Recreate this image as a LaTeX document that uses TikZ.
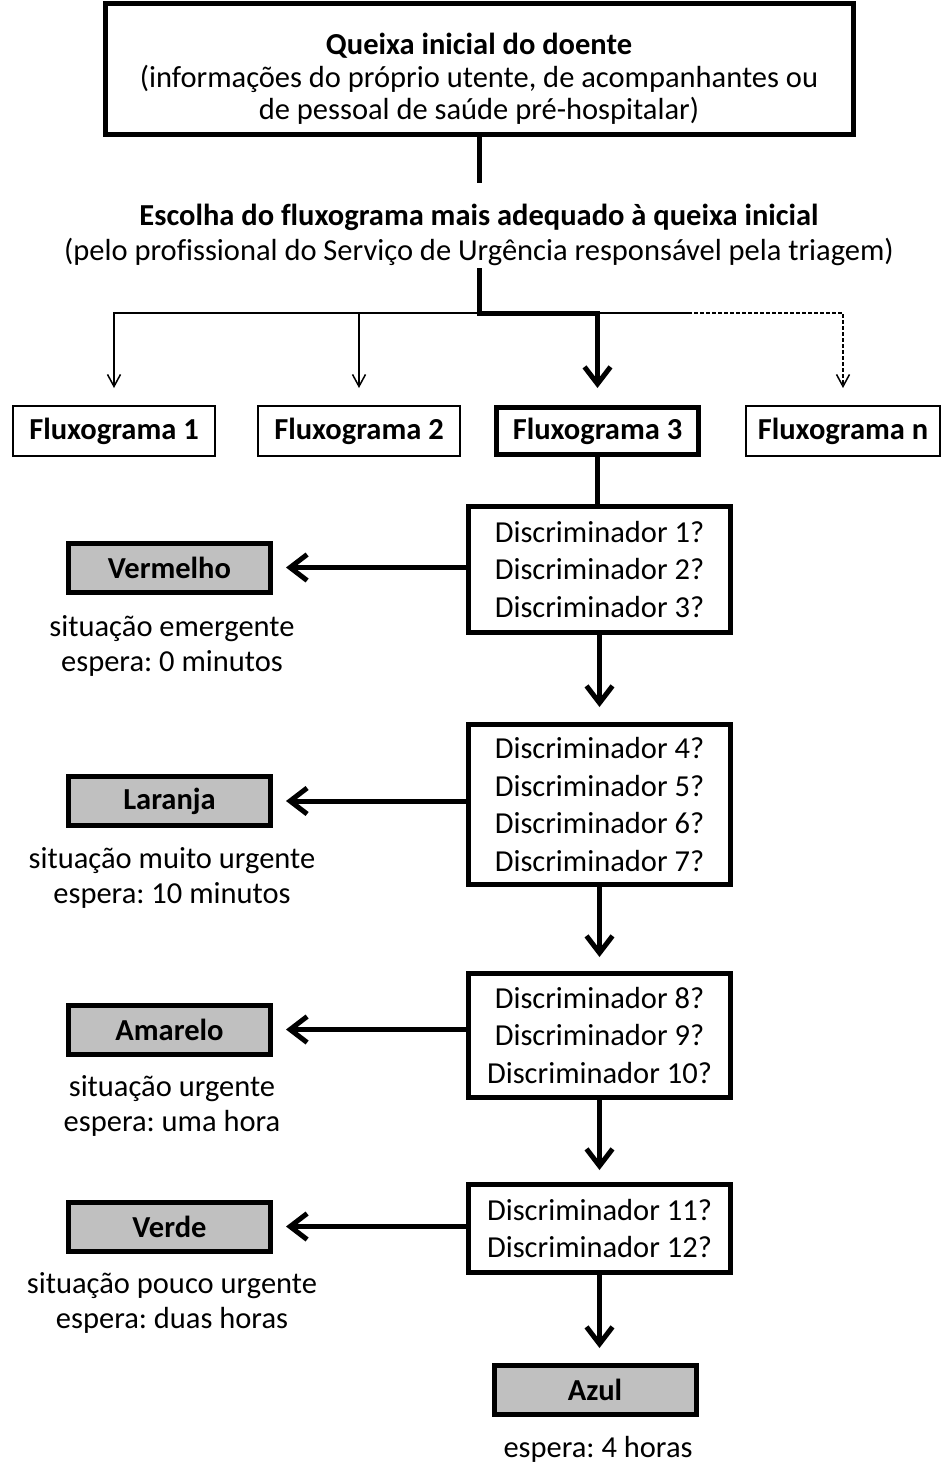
\documentclass[tikz,border=0pt]{standalone}
\usepackage{fontspec}
\setmainfont[Ligatures=NoCommon]{Carlito}
\usetikzlibrary{arrows.meta}
\definecolor{boxgray}{RGB}{192,192,192}
\frenchspacing
\begin{document}
\begin{tikzpicture}[x=1pt,y=-1pt,
  every node/.style={inner sep=0pt, align=center, font=\fontsize{30.5}{37.5}\selectfont},
  thinbox/.style={draw, line width=2pt, fill=white, minimum height=50pt, font=\fontsize{30.5}{37.5}\selectfont\bfseries},
  thickbox/.style={draw, line width=5pt, fill=white},
  colbox/.style={draw, line width=5pt, fill=boxgray, minimum width=202pt, minimum height=49pt, font=\fontsize{30.5}{37.5}\selectfont\bfseries},
  disc/.style={thickbox, minimum width=262pt},
  lbl/.style={font=\fontsize{30.5}{35}\selectfont},
  thk/.style={line width=5pt},
  thn/.style={line width=1.5pt},
  bigtip/.style={-{Straight Barb[length=17pt,width=26pt]}},
  smalltip/.style={-{Straight Barb[length=12pt,width=13pt]}},
]
\useasboundingbox (0,0) rectangle (942,1470);

% nodes
\node[thickbox, minimum width=748pt, minimum height=131pt, font=\fontsize{30.5}{32.5}\selectfont] (top) at (479,68.5)
  {\rule{0pt}{42pt}\textbf{Queixa inicial do doente}\\(informações do próprio utente, de acompanhantes ou\\de pessoal de saúde pré-hospitalar)};
\node[minimum height=85pt, font=\fontsize{30.5}{35}\selectfont] (choose) at (479,225.5)
  {\rule{0pt}{40pt}\textbf{Escolha do fluxograma mais adequado à queixa inicial}\\(pelo profissional do Serviço de Urgência responsável pela triagem)};

\node[thinbox, minimum width=202pt] (f1) at (114,431) {Fluxograma 1};
\node[thinbox, minimum width=202pt] (f2) at (359,431) {Fluxograma 2};
\node[thickbox, minimum width=202pt, minimum height=47pt, font=\fontsize{30.5}{37.5}\selectfont\bfseries] (f3) at (597.5,431) {Fluxograma 3};
\node[thinbox, minimum width=194pt] (fn) at (843,431) {Fluxograma n};

\node[disc, minimum height=126pt] (d1) at (599.5,569.5) {Discriminador 1?\\Discriminador 2?\\Discriminador 3?};
\node[disc, minimum height=160pt] (d2) at (599.5,804.5) {Discriminador 4?\\Discriminador 5?\\Discriminador 6?\\Discriminador 7?};
\node[disc, minimum height=124pt] (d3) at (599.5,1035.5) {Discriminador 8?\\Discriminador 9?\\Discriminador 10?};
\node[disc, minimum height=88pt] (d4) at (599.5,1228.5) {Discriminador 11?\\Discriminador 12?};

\node[colbox] (c1) at (169.5,567.5) {Vermelho};
\node[colbox] (c2) at (169.5,801) {Laranja};
\node[colbox] (c3) at (169.5,1029.5) {Amarelo};
\node[colbox] (c4) at (169.5,1226.5) {Verde};
\node[colbox] (c5) at (595,1390) {Azul};

\node[lbl] (l1) at (172,645.5) {situação emergente\\espera: 0 minutos};
\node[lbl] (l2) at (172,878) {situação muito urgente\\espera: 10 minutos};
\node[lbl] (l3) at (172,1106) {situação urgente\\espera: uma hora};
\node[lbl] (l4) at (172,1303) {situação pouco urgente\\espera: duas horas};
\node[lbl] (l5) at (598,1449) {espera: 4 horas};

% connectors
\coordinate (br) at (479,313);
\coordinate (dsh) at (688,313);
\draw[thn, smalltip, shorten >=17pt] (dsh) -- (br -| f1) -- (f1.north);
\draw[thn, smalltip, shorten >=17pt] (br -| f2) -- (f2.north);
\draw[thn, dash pattern=on 4pt off 2pt, smalltip, shorten >=17pt] (dsh) -| (fn.north);
\draw[thk] (top.south) -- (top.south |- choose.north);
\draw[thk, bigtip, shorten >=17pt] (choose.south) -- (br) -| (f3.north);
\draw[thk] (f3.south) -- (f3.south |- d1.north);
\draw[thk, bigtip, shorten >=15pt] (d1.south) -- (d2.north);
\draw[thk, bigtip, shorten >=14pt] (d2.south) -- (d3.north);
\draw[thk, bigtip, shorten >=12pt] (d3.south) -- (d4.north);
\draw[thk, bigtip, shorten >=15pt] (d4.south) -- (d4.south |- c5.north);
\draw[thk, bigtip, shorten >=13pt] (d1.west |- c1.east) -- (c1.east);
\draw[thk, bigtip, shorten >=13pt] (d2.west |- c2.east) -- (c2.east);
\draw[thk, bigtip, shorten >=13pt] (d3.west |- c3.east) -- (c3.east);
\draw[thk, bigtip, shorten >=13pt] (d4.west |- c4.east) -- (c4.east);
\end{tikzpicture}
\end{document}
